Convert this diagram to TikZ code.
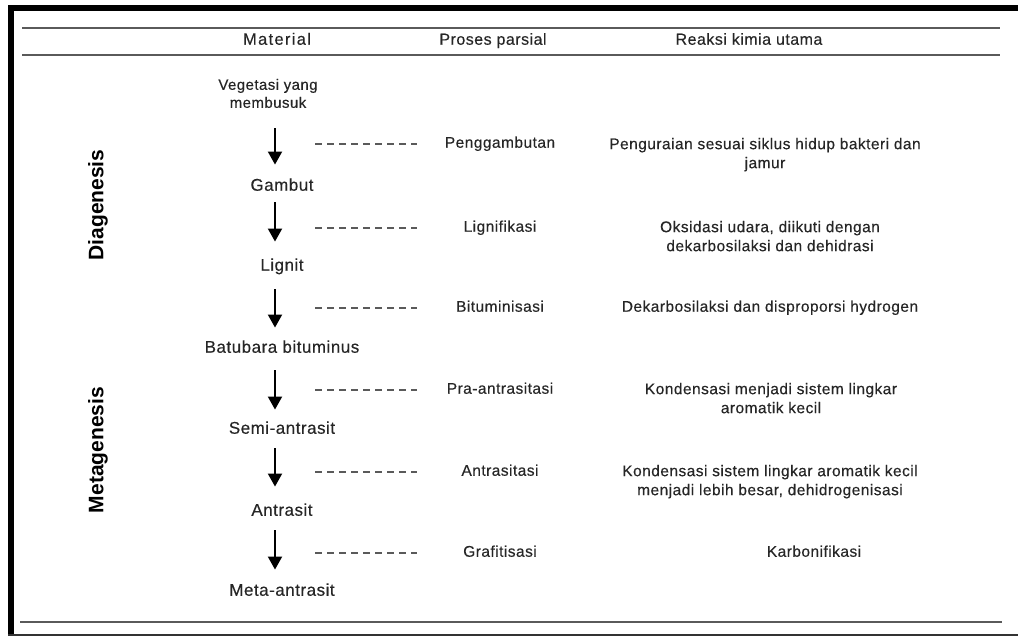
\documentclass[tikz,border=0pt]{standalone}
\usepackage{fontspec}
\setmainfont{Liberation Sans}
\usetikzlibrary{arrows.meta}
\definecolor{ink}{HTML}{262626}
\definecolor{rulegray}{HTML}{5A5A5A}
\tikzset{
  base/.style={inner sep=0pt, text=ink, align=center,
    font=\fontsize{15.5}{19}\selectfont\addfontfeature{LetterSpace=3,FakeBold=0.3}},
  one/.style={base, text height=11pt, text depth=3.5pt},
  two/.style={base, anchor=north},
  mat/.style={one, font=\fontsize{17}{19}\selectfont\addfontfeature{LetterSpace=3,FakeBold=0.3}},
  head/.style={one, font=\fontsize{16}{19}\selectfont\addfontfeature{LetterSpace=3,FakeBold=0.3}},
  phase/.style={inner sep=0pt, rotate=90, font=\fontsize{21}{24}\selectfont\bfseries},
  arr/.style={line width=2pt, -{Triangle[width=14pt,length=13pt]}},
  dashline/.style={rulegray, line width=1.1pt, dash pattern=on 7pt off 5pt},
  hrule/.style={rulegray, line width=2pt}
}
\begin{document}
\begin{tikzpicture}[x=1pt,y=-1pt]
\useasboundingbox (0,0) rectangle (1018,636);
% frame
\fill (8,5) rectangle (1018,11);
\fill (8,5) rectangle (14,636);
\draw[line width=1.5pt, black!80] (8,635) -- (1018,635);
\draw[hrule] (22,28) -- (1000,28);
\draw[hrule] (22,55) -- (1000,55);
\draw[hrule] (20,622) -- (1002,622);

% header
\node[head, font=\fontsize{16.5}{19}\selectfont\addfontfeature{LetterSpace=8,FakeBold=0.3}] (hmat) at (277,41) {Material};
\node[head] (hpro) at (493,41) {Proses parsial};
\node[head] (hrea) at (749,41) {Reaksi kimia utama};

% phases
\node[phase] (dia) at (98,205) {Diagenesis};
\node[phase] (meta) at (98,450) {Metagenesis};

% material
\node[two, font=\fontsize{15}{18}\selectfont\addfontfeature{LetterSpace=3,FakeBold=0.3}] (veg) at (268,78.75) {Vegetasi yang\\membusuk};
\node[mat] (gambut) at (282,187) {Gambut};
\node[mat] (lignit) at (282,267) {Lignit};
\node[mat] (batu) at (282,349) {Batubara bituminus};
\node[mat] (semi) at (282,430) {Semi-antrasit};
\node[mat] (antr) at (282,512) {Antrasit};
\node[mat] (metaa) at (282,592) {Meta-antrasit};

% proses parsial
\node[one] (pg) at (500,144) {Penggambutan};
\node[one] (lg) at (500,228) {Lignifikasi};
\node[one] (bt) at (500,308) {Bituminisasi};
\node[one] (pa) at (500,390) {Pra-antrasitasi};
\node[one] (an) at (500,472) {Antrasitasi};
\node[one] (gr) at (500,553) {Grafitisasi};

% reaksi kimia
\node[two] (r1) at (765,137.75) {Penguraian sesuai siklus hidup bakteri dan\\jamur};
\node[two] (r2) at (770,220.75) {Oksidasi udara, diikuti dengan\\dekarbosilaksi dan dehidrasi};
\node[one] (r3) at (770,308) {Dekarbosilaksi dan disproporsi hydrogen};
\node[two] (r4) at (771,382.75) {Kondensasi menjadi sistem lingkar\\aromatik kecil};
\node[two] (r5) at (770,464.75) {Kondensasi sistem lingkar aromatik kecil\\menjadi lebih besar, dehidrogenisasi};
\node[one] (r6) at (814,553) {Karbonifikasi};

% arrows
\coordinate (ax) at (275,0);
\foreach \a/\b/\s/\e in {veg/gambut/20/15, gambut/lignit/8/18, lignit/batu/15/14,
    batu/semi/14/13, semi/antr/11/18, antr/metaa/11/15}
  \draw[arr, shorten <=\s pt, shorten >=\e pt] (\a.south -| ax) -- (\b.north -| ax);

% dashes
\coordinate (dl) at (315,0);
\coordinate (dr) at (417,0);
\foreach \p in {pg,lg,bt,pa,an,gr}
  \draw[dashline] (\p.west -| dl) -- (\p.west -| dr);
\end{tikzpicture}
\end{document}
